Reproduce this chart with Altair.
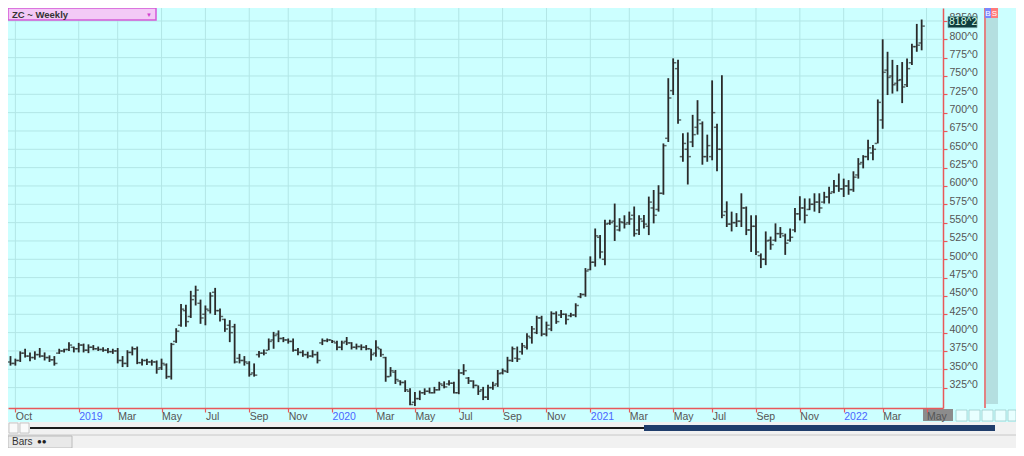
import altair as alt
import pandas as pd

# ---------------- data (weekly OHLC) ----------------
first_bar = "2018-09-28"

highs = [368,364.5,374.5,378,373,374.5,379,373,369,368,
         378,378,387,381,386,385,384,383,381,380,
         379,378,379,368,376,381,381,364.5,364.5,363,
         362,364.5,358,386,406,439,438,457,464,445,
         437,455,461,433,419,417,412,371,368,361,
         358,375,377,392,401,403,394,392,392,379,
         376,374,376,374,392,392,390,389,389,394,
         387,385,384,383,378,389.5,378,367,353,349,
         335,335,324,319,321,324,325,326,333,333.5,
         335,333,350,357,339.5,335,328,326,329,333,
         349,351,367,381,381,386,399,409,423,423,
         415,429,429,431,426,427,440,454,488,504,
         542,533,554,554,576,556,560,565,572,560,
         560.5,585.5,594.5,601,658,747,774,772,672,673,
         697,717,688,670,744,685,751,579,565,563,
         590,572,560,560,508,538,531,549,544,535,
         542,570,586,583,583,590,590,592,599,608,
         617,610,608,620,638,642,663,656,718,800,
         783,772,765,769,774,794,821,827]

lows = [355,355,360,366,361,363,366,362,360,355,
        371,373,375,373,373,373,372,376,375,374,
        372,371,358,353,353,369,357,355,356,355,
        344,349,337,336,386,408,408,420,437,412,
        410,426,424,415,401,387,358,358,355,340,
        340,366,369,376,378,387,387,385,374,369,
        367,365,366,358,383,387,386,376,376,383,
        377,377,376,376,362,367,367,333,340,330,
        328,319,301,300,308,315,317,317,321,324,
        328,317,316,342,330,324,315,308,308,322,
        326,343,345,360,360,370,377,385,398,395,
        395,402,412,420,411,421,421,447,449,485,
        490,501,492,547,525,538,542,547,531,533,
        542,533,549,565,588,660,724,685,633,602,
        653,670,629,633,635,620,556,544,538,544,
        544,533,510,506,488,492,513,524,529,506,
        524,537,553,549,567,565,563,576,576,590,
        592,585,588,592,610,624,635,635,658,678,
        724,726,729,713,735,765,783,785]

opens = [360,358,362,372,368,366,370,368,366,363,
         372,375,377,380,378,383,376,380,378,377,
         376,374,375,362,358,373,378,359,362,360,
         360,352,356,340,388,410,430,422,450,440,
         425,430,455,430,418,410,408,365,362,358,
         345,370,372,376,390,398,392,390,388,376,
         373,370,368,370,386,389,390,386,380,388,
         386,380,381,380,378,372,378,366,340,346,
         334,332,320,305,310,318,320,318,322,328,
         330,331,318,345,338,334,328,322,312,325,
         330,345,347,362,365,374,380,393,400,420,
         398,405,426,424,425,423,424,449,452,486,
         496,530,500,549,552,540,550,550,560,540,
         552,545,570,568,590,665,730,760,640,650,
         660,680,685,640,640,680,650,565,548,550,
         552,570,540,545,505,500,526,526,535,532,
         526,540,562,570,568,575,578,578,585,592,
         600,596,600,595,615,632,640,645,658,690,
         758,750,740,745,738,768,790,795]

closes = [358,362,372,368,366,370,368,366,363,358,
          375,377,383,378,383,376,380,378,377,376,
          374,375,362,358,373,378,359,362,360,360,
          350,358,340,384,402,432,415,445,458,420,
          432,450,430,422,405,400,360,362,360,343,
          342,372,372,388,396,392,390,388,376,373,
          370,368,370,362,389,390,388,380,386,386,
          380,381,380,378,370,380,370,340,348,336,
          332,322,302,310,318,320,318,322,330,326,
          331,318,345,348,334,328,320,312,325,328,
          344,348,362,378,364,382,395,405,420,398,
          410,426,415,425,418,424,437,452,484,496,
          532,510,548,550,545,551,548,555,535,555,
          548,578,560,590,655,720,768,690,658,640,
          670,690,640,655,700,650,560,548,550,552,
          570,540,545,510,500,525,520,535,535,522,
          530,562,570,560,575,578,570,585,590,600,
          596,600,595,612,630,640,652,650,714,755,
          748,738,744,735,760,790,792,818]

last_label = "818^2"

# first weekly bar of each labelled month
tick_dates = ["2018-10-05", "2019-01-04", "2019-03-01", "2019-05-03", "2019-07-05",
              "2019-09-06", "2019-11-01", "2020-01-03", "2020-03-06", "2020-05-01",
              "2020-07-03", "2020-09-04", "2020-11-06", "2021-01-08", "2021-03-05",
              "2021-05-07", "2021-07-02", "2021-09-03", "2021-11-05", "2022-01-07",
              "2022-03-04", "2022-05-06"]

price_levels = [325, 350, 375, 400, 425, 450, 475, 500, 525, 550, 575, 600,
                625, 650, 675, 700, 725, 750, 775, 800, 825]

x_domain = ["2018-09-24 09:50", "2022-05-29 15:50"]
y_domain = [297.2, 842.7]


def ms(s):
    return int(pd.Timestamp(s, tz="UTC").value // 10**6)


dates = pd.date_range(first_bar, periods=len(highs), freq="7D", tz="UTC")
df = pd.DataFrame({
    "t": (dates.asi8 // 10**6).astype("int64"),
    "open": opens, "high": highs, "low": lows, "close": closes,
})
last = df.tail(1).copy()
last["lbl"] = last_label

tick_ms = [ms(d) for d in tick_dates]

# ---------------- styling ----------------
W, H = 935, 400
BG = "#ccffff"
GRID = "#b2e6e6"
BAR = "#2a2a2a"
RED = "#e8585a"
LABEL = "#555555"
FONT = "Liberation Sans"

xscale = alt.Scale(type="utc", domain=[ms(x_domain[0]), ms(x_domain[1])])
yscale = alt.Scale(domain=y_domain, zero=False, nice=False)

xaxis = alt.Axis(
    values=tick_ms,
    labelExpr="utcFormat(datum.value, '%m') == '01' ? utcFormat(datum.value, '%Y') : utcFormat(datum.value, '%b')",
    labelColor={"condition": {"test": "utcFormat(datum.value, '%m') == '01'", "value": "#4a66ff"},
                "value": LABEL},
    labelAlign="left", labelBaseline="top", labelPadding=-1,
    labelFont=FONT, labelFontSize=10.5, labelOverlap=False, labelFlush=False,
    tickColor=RED, tickSize=4, tickWidth=1.2,
    domainColor=RED, domainWidth=1.5, grid=False, title=None, zindex=1,
)
yaxis = alt.Axis(
    orient="right", values=price_levels, labelExpr="datum.value + '^0'",
    labelColor=LABEL, labelFont=FONT, labelFontSize=10.5, labelBaseline="alphabetic",
    labelPadding=2, labelOverlap=False, labelFlush=False,
    tickColor=RED, tickSize=4, tickWidth=1.2,
    domainColor=RED, domainWidth=1.5, grid=False, title=None, zindex=0,
)


def X(field="t"):
    return alt.X(f"{field}:T", scale=xscale, axis=xaxis)


def Y(field):
    return alt.Y(f"{field}:Q", scale=yscale, axis=yaxis)


# grid lines
grid_v = alt.Chart(pd.DataFrame({"t": tick_ms})).mark_rule(color=GRID, strokeWidth=1).encode(
    x=X())
grid_h = alt.Chart(pd.DataFrame({"p": price_levels})).mark_rule(color=GRID, strokeWidth=1).encode(
    y=Y("p"))

# OHLC bars
hl = alt.Chart(df).mark_rule(color=BAR, strokeWidth=1.8).encode(
    x=X(), y=Y("low"), y2="high:Q")
op = alt.Chart(df).mark_tick(orient="horizontal", size=2.5, thickness=1.5,
                             xOffset=-1.9, color=BAR).encode(x=X(), y=Y("open"))
cl = alt.Chart(df).mark_tick(orient="horizontal", size=2.5, thickness=1.5,
                             xOffset=1.9, color=BAR).encode(x=X(), y=Y("close"))

# last price flag on the price axis
flag = alt.Chart(last).mark_rect(color="#0f3d3d", stroke="#6a9a9a", strokeWidth=0.8,
                                 yOffset=-9.5, y2Offset=1.5).encode(
    x=alt.value(W + 5), x2=alt.value(W + 34), y=Y("close"), y2="close:Q")
flag_txt = alt.Chart(last).mark_text(align="left", baseline="middle", color="#d8ffe8",
                                     font=FONT, fontSize=10.5, yOffset=-4).encode(
    x=alt.value(W + 6), y=Y("close"), text="lbl:N")

# ---------------- window chrome ----------------
base = alt.Chart(pd.DataFrame({"k": [0]}))


def box(x1, x2, y1, y2, **kw):
    return base.mark_rect(**kw).encode(
        x=alt.value(x1), x2=alt.value(x2), y=alt.value(y1), y2=alt.value(y2))


def txt(x, y, s, **kw):
    return base.mark_text(**kw).encode(x=alt.value(x), y=alt.value(y), text=alt.value(s))


chrome = [
    # title tab
    box(0, 148, 0, 12, fill="#f3c9f6", stroke="#d35ad6", strokeWidth=1.5),
    txt(4, 6.5, "ZC ~ Weekly", align="left", baseline="middle", font=FONT,
        fontSize=9.5, fontWeight="bold", color="#333333"),
    txt(141, 6.5, "▼", align="center", baseline="middle", fontSize=6, color="#d040d0"),
    # right side panel
    box(978, 990, 10, 396, fill="#b4dfe0"),
    base.mark_rule(color=RED, strokeWidth=1.5).encode(
        x=alt.value(977), y=alt.value(0), y2=alt.value(H)),
    box(977, 983, 0, 10, fill="#7a86ff"),
    box(983, 990, 0, 10, fill="#ff7a7a"),
    txt(980, 5.5, "B", align="center", baseline="middle", fontSize=8, font=FONT, color="#ffffff"),
    txt(986.5, 5.5, "S", align="center", baseline="middle", fontSize=8, font=FONT, color="#ffffff"),
    # highlighted date label
    box(915, 945, 401, 413, fill="#8c8c8c"),
    # small buttons right of the date axis
    box(948, 959, 402, 413, fill="#e8ffff", stroke="#9ccccc", strokeWidth=0.8),
    box(961, 972, 402, 413, fill="#e8ffff", stroke="#9ccccc", strokeWidth=0.8),
    box(974, 985, 402, 413, fill="#e8ffff", stroke="#9ccccc", strokeWidth=0.8),
    box(987, 998, 402, 413, fill="#e8ffff", stroke="#9ccccc", strokeWidth=0.8),
    box(1000, 1008, 402, 413, fill="#e8ffff", stroke="#9ccccc", strokeWidth=0.8),
    # scroll bar and bottom tab strip
    box(0, 1008, 414, 440, fill="#f1f1f1"),
    base.mark_rule(color="#c8c8c8", strokeWidth=1).encode(
        x=alt.value(0), x2=alt.value(1008), y=alt.value(427)),
    box(1, 10, 415, 425, fill="#fafafa", stroke="#bbbbbb", strokeWidth=0.8),
    box(12, 21, 415, 425, fill="#fafafa", stroke="#bbbbbb", strokeWidth=0.8),
    base.mark_rule(color="#1a1a1a", strokeWidth=2).encode(
        x=alt.value(22), x2=alt.value(636), y=alt.value(420)),
    box(636, 987, 417, 423, fill="#1f3d6b"),
    box(0, 64, 428, 440, fill="#e9e9e9", stroke="#b0b0b0", strokeWidth=0.8),
    txt(4, 434, "Bars", align="left", baseline="middle", font=FONT, fontSize=10, color="#333333"),
    txt(29, 434, "●●", align="left", baseline="middle", fontSize=8, color="#222222"),
]

chart = alt.layer(
    grid_v, grid_h, hl, op, cl, *chrome, flag, flag_txt
).properties(
    width=W, height=H,
    autosize=alt.AutoSizeParams(type="none"),
    padding={"left": 0, "top": 0, "right": 73, "bottom": 40},
    background=BG,
).configure_view(fill=BG, strokeWidth=0)

chart.save("out.html", embed_options={"renderer": "svg", "actions": False})
